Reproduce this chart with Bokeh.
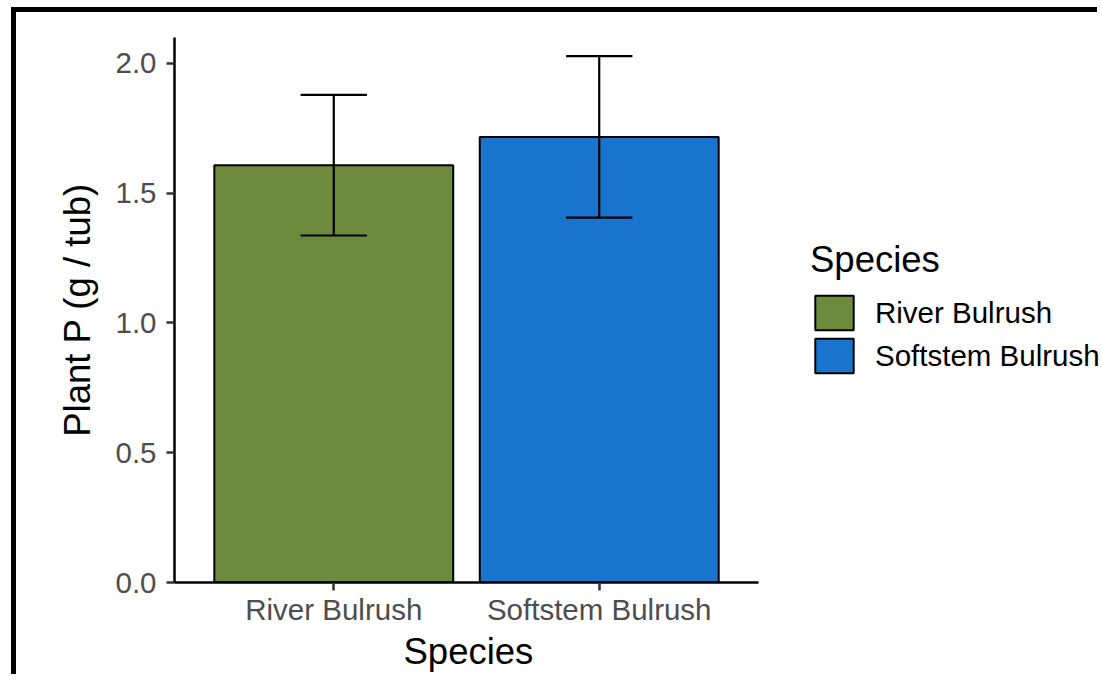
from bokeh.plotting import figure
from bokeh.models import (ColumnDataSource, Range1d, FixedTicker, NumeralTickFormatter, Title)
from bokeh.embed import file_html
from bokeh.resources import INLINE

species = ["River Bulrush", "Softstem Bulrush"]
plant_p = [1.608, 1.717]
plant_p_se = [0.271, 0.311]
colors = ["#6E8B3D", "#1874CD"]

xpos = [i + 1 for i in range(len(species))]
src = ColumnDataSource(dict(
    x=xpos, species=species, top=plant_p, color=colors,
    lo=[m - s for m, s in zip(plant_p, plant_p_se)],
    hi=[m + s for m, s in zip(plant_p, plant_p_se)],
    cl=[x - 0.125 for x in xpos], cr=[x + 0.125 for x in xpos],
))

FONT = "Liberation Sans"

# discrete axis limits (ggplot-style expansion of 0.6 on each side)
x_lo, x_hi = 1 - 0.6, len(species) + 0.6
W, H = 1086, 667
LEFT, TOP, BOTTOM = 158, 25, 97
axis_px = 584  # pixel length of the drawn x axis
frame_w = W - LEFT
x_end = x_lo + (x_hi - x_lo) * frame_w / axis_px

p = figure(width=W, height=H, output_backend="svg", toolbar_location=None,
           x_range=Range1d(x_lo, x_end), y_range=Range1d(0, 2.1),
           min_border_left=LEFT, min_border_right=0, min_border_top=TOP,
           min_border_bottom=BOTTOM)
p.styles = {"border-top": "5px solid black", "border-left": "5px solid black",
            "margin-left": "11px", "margin-top": "7px"}
p.outline_line_color = None
p.xgrid.visible = False
p.ygrid.visible = False

p.vbar(x="x", top="top", bottom=0, width=0.9, source=src, fill_color="color",
       line_color="black", line_width=2, legend_field="species")
p.segment(x0="x", x1="x", y0="lo", y1="hi", source=src, line_color="black", line_width=2.2)
p.segment(x0="cl", x1="cr", y0="hi", y1="hi", source=src, line_color="black", line_width=2.2)
p.segment(x0="cl", x1="cr", y0="lo", y1="lo", source=src, line_color="black", line_width=2.2)

for ax in (p.xaxis[0], p.yaxis[0]):
    ax.axis_line_color = "black"
    ax.axis_line_width = 2.5
    ax.major_tick_line_color = "#333333"
    ax.major_tick_line_width = 2.5
    ax.major_tick_in = 0
    ax.major_tick_out = 8
    ax.minor_tick_line_color = None
    ax.major_label_text_font = FONT
    ax.major_label_text_font_size = "29.5px"
    ax.major_label_text_color = "#4D4D4D"
    ax.axis_label_text_font = FONT
    ax.axis_label_text_font_size = "36.5px"
    ax.axis_label_text_font_style = "normal"
    ax.axis_label_text_color = "black"

p.xaxis.bounds = (x_lo, x_hi)
p.xaxis.ticker = FixedTicker(ticks=xpos)
p.xaxis.major_label_overrides = {x: s for x, s in zip(xpos, species)}
p.xaxis.major_label_standoff = 2

# x-axis title, centred under the drawn axis (not under the whole frame)
p.add_layout(Title(text="Species", align="left", offset=229, standoff=0,
                   text_font=FONT, text_font_size="36.5px", text_font_style="normal",
                   text_color="black", text_line_height=1.0), "below")

p.yaxis.ticker = FixedTicker(ticks=[0, 0.5, 1.0, 1.5, 2.0])
p.yaxis.formatter = NumeralTickFormatter(format="0.0")
p.yaxis.axis_label = "Plant P (g / tub)"
p.yaxis.major_label_standoff = 10
p.yaxis.axis_label_standoff = 14

leg = p.legend[0]
leg.title = "Species"
leg.title_text_font = FONT
leg.title_text_font_size = "36.5px"
leg.title_text_font_style = "normal"
leg.title_text_color = "black"
leg.title_standoff = 10
leg.label_text_font = FONT
leg.label_text_font_size = "29.5px"
leg.label_text_color = "black"
leg.label_standoff = 17
leg.glyph_width = 48
leg.glyph_height = 43
leg.label_height = 43
leg.spacing = 0
leg.padding = 0
leg.margin = 0
leg.border_line_color = None
leg.background_fill_color = None
leg.location = (636, 205)

open("out.html", "w").write(file_html(p, INLINE))
